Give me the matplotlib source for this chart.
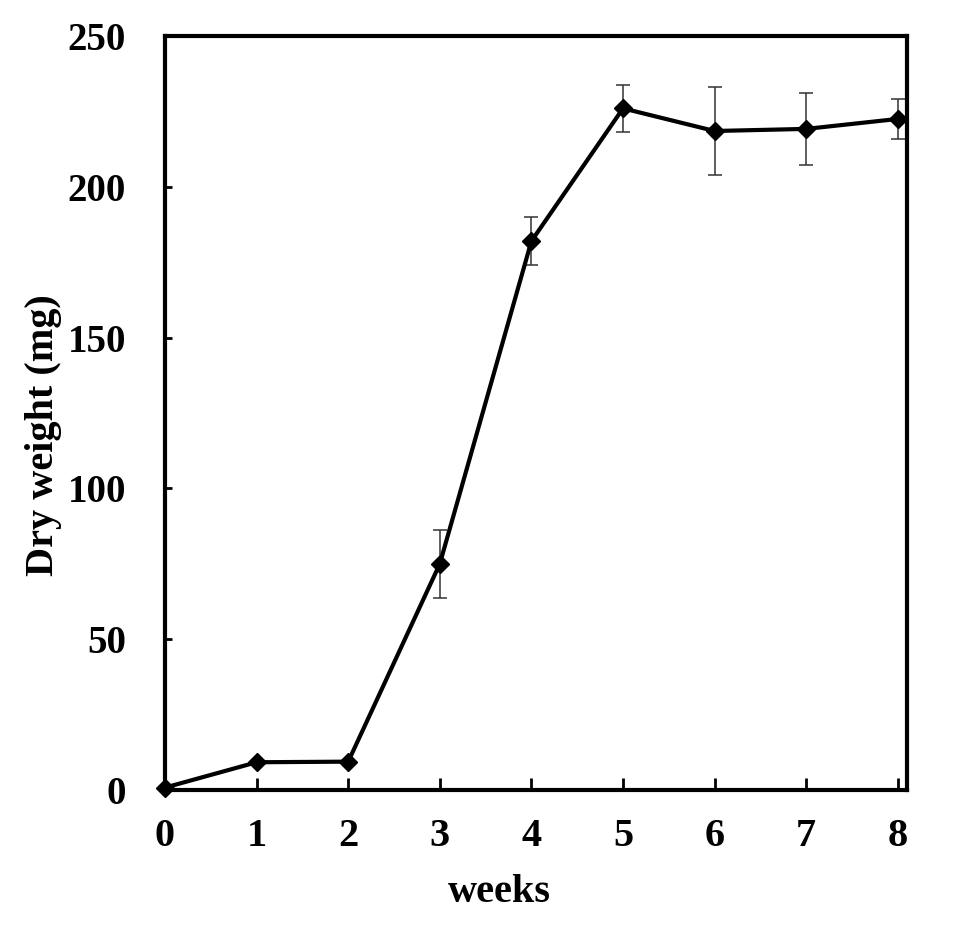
import matplotlib
matplotlib.use("Agg")
import matplotlib.pyplot as plt

# dry weight over time
weeks = [0, 1, 2, 3, 4, 5, 6, 7, 8]
dry_weight = [0.8, 9.2, 9.4, 75.0, 182.0, 226.0, 218.5, 219.2, 222.5]
err = [0.0, 0.0, 0.0, 11.3, 8.0, 7.9, 14.6, 12.0, 6.5]

y_ticks = [0, 50, 100, 150, 200, 250]

plt.rcParams['font.family'] = ['Liberation Serif', 'DejaVu Serif']
plt.rcParams['font.weight'] = 'bold'

fig = plt.figure(figsize=(9.6, 9.47), dpi=100)
ax = fig.add_axes([165 / 960, 157 / 947, 742 / 960, 754 / 947])

ax.errorbar(weeks, dry_weight, yerr=err, fmt='none', ecolor='#333333',
            elinewidth=1.1, capsize=5, capthick=1.1, zorder=2)
ax.plot(weeks, dry_weight, color='black', lw=3.0, marker='D', ms=9,
        zorder=3, clip_on=False)

ax.set_xlim(0, 8.1)
ax.set_ylim(0, 250)
ax.set_xticks(weeks)
ax.set_yticks(y_ticks)

for s in ax.spines.values():
    s.set_linewidth(3.0)

ax.tick_params(axis='x', direction='in', length=8.5, width=2, pad=20, labelsize=29)
ax.tick_params(axis='y', direction='in', length=5, width=2, pad=28, labelsize=28)
for lab in ax.get_xticklabels() + ax.get_yticklabels():
    lab.set_fontweight('bold')

ax.set_xlabel('weeks', fontsize=29, fontweight='bold')
ax.set_ylabel('Dry weight (mg)', fontsize=29, fontweight='bold')
ax.xaxis.set_label_coords(0.45, -0.112)
ax.yaxis.set_label_coords(-0.139, 0.47)

fig.savefig('out.png', dpi=100)
plt.close(fig)
